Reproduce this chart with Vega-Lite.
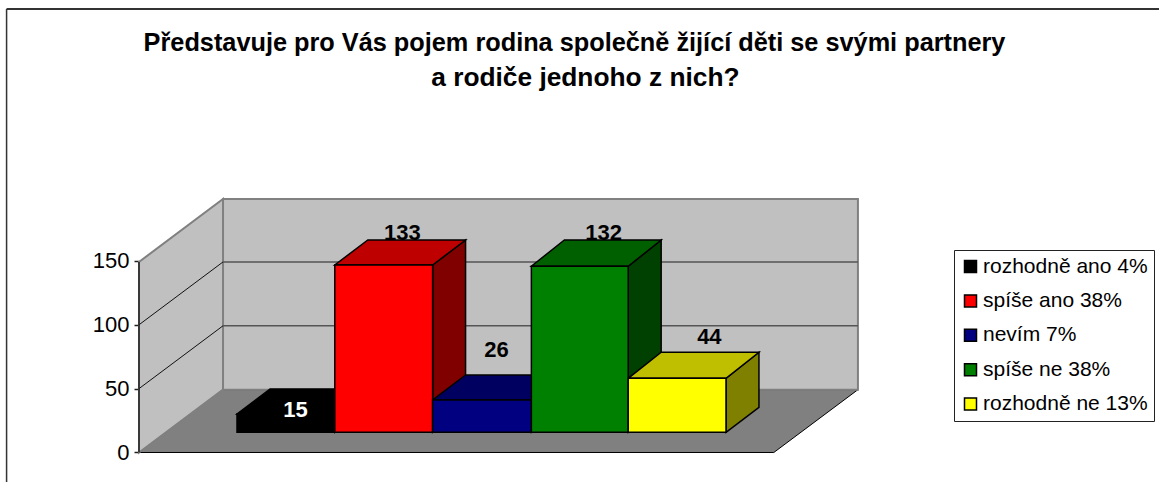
{
"$schema":"https://vega.github.io/schema/vega-lite/v6.json",
"width":1159,"height":482,"autosize":{"type":"none"},"padding":0,"background":"white",
"config":{"view":{"stroke":null},"font":"Liberation Sans","axisY":{"domain":false,"grid":false,"tickSize":5,"tickColor":"#222","tickWidth":1.5,"labelFontSize":22,"labelColor":"black","labelPadding":5,"labelFont":"Liberation Sans"}},
"title":{"text":"Představuje pro Vás pojem rodina společně žijící děti se svými partnery","anchor":"middle","frame":"group","dx":-5,"offset":-56,"fontSize":25.3,"fontWeight":"bold","font":"Liberation Sans","color":"black"},
"datasets":{
"bars":[
{"label":"rozhodně ano 4%","count":15,"x":0,"x2":1,"base":15.8,"top":30.1},
{"label":"spíše ano 38%","count":133,"x":1,"x2":2,"base":15.8,"top":146.8},
{"label":"nevím 7%","count":26,"x":2,"x2":3.01,"base":15.8,"top":41.1},
{"label":"spíše ne 38%","count":132,"x":3.01,"x2":4,"base":15.8,"top":145.8},
{"label":"rozhodně ne 13%","count":44,"x":4,"x2":5,"base":15.8,"top":58.1}],
"sides":[
{"label":"rozhodně ano 4%","x":1,"y":15.8,"y2":30.1},{"label":"rozhodně ano 4%","x":1.337,"y":35.4,"y2":49.7},
{"label":"spíše ano 38%","x":2,"y":15.8,"y2":146.8},{"label":"spíše ano 38%","x":2.337,"y":35.4,"y2":166.4},
{"label":"nevím 7%","x":3.01,"y":15.8,"y2":41.1},{"label":"nevím 7%","x":3.347,"y":35.4,"y2":60.7},
{"label":"spíše ne 38%","x":4,"y":15.8,"y2":145.8},{"label":"spíše ne 38%","x":4.337,"y":35.4,"y2":166.4},
{"label":"rozhodně ne 13%","x":5,"y":15.8,"y2":58.1},{"label":"rozhodně ne 13%","x":5.337,"y":35.4,"y2":78.5}],
"tops":[
{"label":"rozhodně ano 4%","y":30.1,"x":0,"x2":1},{"label":"rozhodně ano 4%","y":49.7,"x":0.337,"x2":1.337},
{"label":"spíše ano 38%","y":146.8,"x":1,"x2":2},{"label":"spíše ano 38%","y":166.4,"x":1.337,"x2":2.337},
{"label":"nevím 7%","y":41.1,"x":2,"x2":3.01},{"label":"nevím 7%","y":60.7,"x":2.337,"x2":3.347},
{"label":"spíše ne 38%","y":145.8,"x":3.01,"x2":4},{"label":"spíše ne 38%","y":166.4,"x":3.347,"x2":4.337},
{"label":"rozhodně ne 13%","y":58.1,"x":4,"x2":5},{"label":"rozhodně ne 13%","y":78.5,"x":4.337,"x2":5.337}],
"labels":[
{"count":15,"x":0.598,"y":27.8},{"count":133,"x":1.692,"y":166.4},{"count":26,"x":2.654,"y":75},{"count":132,"x":3.749,"y":166.4},{"count":44,"x":4.83,"y":85}],
"floor":[{"y":0,"x":-1.002,"x2":5.489},{"y":49.2,"x":-0.143,"x2":6.349}],
"leftwall":[{"x":-1.002,"y":0,"y2":149.2},{"x":-0.143,"y":49.2,"y2":198.5}],
"backwall":[{"x":-0.143,"x2":6.349,"y":49.2,"y2":198.5}],
"sidegrid":[{"level":50,"x":-1.002,"y":50},{"level":50,"x":-0.143,"y":99.2},{"level":100,"x":-1.002,"y":100},{"level":100,"x":-0.143,"y":149.2}],
"backgrid":[{"x":-0.143,"x2":6.349,"y":99.2},{"x":-0.143,"x2":6.349,"y":149.2}],
"axisline":[{"x":-1.002,"y":0,"y2":149.2}],
"frametop":[{"x":-2.356,"x2":9.4274,"y":347.3}],
"frameleft":[{"x":-2.356,"y":347.3,"y2":-23.1}],
"titleline":[{"text":"a rodiče jednoho z nich?","x":3.562,"y":287.2}]
},
"layer":[
{"data":{"name":"floor"},"mark":{"type":"area","orient":"horizontal","color":"#808080","stroke":"black","strokeWidth":1},
 "encoding":{
  "y":{"field":"y","type":"quantitative","scale":{"domain":[-23.1,354.3],"zero":false,"nice":false},"axis":{"title":null,"values":[0,50,100,150],"offset":-139}},
  "x":{"field":"x","type":"quantitative","scale":{"domain":[-2.4233,9.4274],"zero":false,"nice":false},"axis":null},
  "x2":{"field":"x2"}}},
{"data":{"name":"titleline"},"mark":{"type":"text","fontSize":26.3,"fontWeight":"bold","color":"black","font":"Liberation Sans","align":"center","baseline":"alphabetic"},
 "encoding":{"x":{"field":"x","type":"quantitative","axis":null},"y":{"field":"y","type":"quantitative","axis":{"title":null,"values":[0,50,100,150],"offset":-139}},"text":{"field":"text","type":"nominal"}}},
{"data":{"name":"backwall"},"mark":{"type":"rect","color":"#C0C0C0","stroke":"#808080","strokeWidth":2},
 "encoding":{"x":{"field":"x","type":"quantitative","axis":null},"x2":{"field":"x2"},"y":{"field":"y","type":"quantitative","axis":{"title":null,"values":[0,50,100,150],"offset":-139}},"y2":{"field":"y2"}}},
{"data":{"name":"leftwall"},"mark":{"type":"area","orient":"vertical","color":"#C0C0C0","stroke":"#808080","strokeWidth":2},
 "encoding":{"x":{"field":"x","type":"quantitative","axis":null},"y":{"field":"y","type":"quantitative","axis":{"title":null,"values":[0,50,100,150],"offset":-139}},"y2":{"field":"y2"}}},
{"data":{"name":"backgrid"},"mark":{"type":"rule","color":"#555555","strokeWidth":1.5},
 "encoding":{"x":{"field":"x","type":"quantitative","axis":null},"x2":{"field":"x2"},"y":{"field":"y","type":"quantitative","axis":{"title":null,"values":[0,50,100,150],"offset":-139}}}},
{"data":{"name":"sidegrid"},"mark":{"type":"line","color":"#111111","strokeWidth":1},
 "encoding":{"x":{"field":"x","type":"quantitative","axis":null},"y":{"field":"y","type":"quantitative","axis":{"title":null,"values":[0,50,100,150],"offset":-139}},"detail":{"field":"level"}}},
{"data":{"name":"axisline"},"mark":{"type":"rule","color":"#222222","strokeWidth":1.5},
 "encoding":{"x":{"field":"x","type":"quantitative","axis":null},"y":{"field":"y","type":"quantitative","axis":{"title":null,"values":[0,50,100,150],"offset":-139}},"y2":{"field":"y2"}}},
{"data":{"name":"frametop"},"mark":{"type":"rule","color":"#333333","strokeWidth":2},
 "encoding":{"x":{"field":"x","type":"quantitative","axis":null},"x2":{"field":"x2"},"y":{"field":"y","type":"quantitative","axis":{"title":null,"values":[0,50,100,150],"offset":-139}}}},
{"data":{"name":"frameleft"},"mark":{"type":"rule","color":"#333333","strokeWidth":1.5},
 "encoding":{"x":{"field":"x","type":"quantitative","axis":null},"y":{"field":"y","type":"quantitative","axis":{"title":null,"values":[0,50,100,150],"offset":-139}},"y2":{"field":"y2"}}},
{"data":{"name":"labels"},"transform":[{"filter":"datum.count > 20"}],"mark":{"type":"text","fontSize":22,"fontWeight":"bold","color":"black","font":"Liberation Sans","align":"center","baseline":"alphabetic"},
 "encoding":{"x":{"field":"x","type":"quantitative","axis":null},"y":{"field":"y","type":"quantitative","axis":{"title":null,"values":[0,50,100,150],"offset":-139}},"text":{"field":"count","type":"quantitative"}}},
{"data":{"name":"sides"},"mark":{"type":"area","orient":"vertical","stroke":"black","strokeWidth":1.5},
 "encoding":{"x":{"field":"x","type":"quantitative","axis":null},"y":{"field":"y","type":"quantitative","axis":{"title":null,"values":[0,50,100,150],"offset":-139}},"y2":{"field":"y2"},
  "color":{"field":"label","type":"nominal","legend":null,"scale":{"domain":["rozhodně ano 4%","spíše ano 38%","nevím 7%","spíše ne 38%","rozhodně ne 13%"],"range":["#000000","#800000","#000040","#004000","#808000"]}}}},
{"data":{"name":"tops"},"mark":{"type":"area","orient":"horizontal","stroke":"black","strokeWidth":1.5},
 "encoding":{"y":{"field":"y","type":"quantitative","axis":{"title":null,"values":[0,50,100,150],"offset":-139}},"x":{"field":"x","type":"quantitative","axis":null},"x2":{"field":"x2"},
  "color":{"field":"label","type":"nominal","legend":null,"scale":{"domain":["rozhodně ano 4%","spíše ano 38%","nevím 7%","spíše ne 38%","rozhodně ne 13%"],"range":["#000000","#BF0000","#000060","#006000","#BFBF00"]}}}},
{"data":{"name":"bars"},"mark":{"type":"rect","stroke":"black","strokeWidth":1.5},
 "encoding":{"x":{"field":"x","type":"quantitative","axis":null},"x2":{"field":"x2"},"y":{"field":"top","type":"quantitative","axis":{"title":null,"values":[0,50,100,150],"offset":-139}},"y2":{"field":"base"},
  "color":{"field":"label","type":"nominal","scale":{"domain":["rozhodně ano 4%","spíše ano 38%","nevím 7%","spíše ne 38%","rozhodně ne 13%"],"range":["#000000","#FF0000","#000080","#008000","#FFFF00"]},
   "legend":{"title":null,"orient":"none","legendX":954,"legendY":250,"fillColor":"white","strokeColor":"#222222","padding":6,"symbolType":"square","symbolSize":144,"symbolStrokeColor":"black","symbolStrokeWidth":1.5,"symbolOpacity":1,"labelFontSize":21,"labelFont":"Liberation Sans","labelColor":"black","rowPadding":12.4,"labelOffset":2,"labelLimit":300}}}},
{"data":{"name":"labels"},"transform":[{"filter":"datum.count <= 20"}],"mark":{"type":"text","fontSize":22,"fontWeight":"bold","color":"white","font":"Liberation Sans","align":"center","baseline":"alphabetic"},
 "encoding":{"x":{"field":"x","type":"quantitative","axis":null},"y":{"field":"y","type":"quantitative","axis":{"title":null,"values":[0,50,100,150],"offset":-139}},"text":{"field":"count","type":"quantitative"}}}
],
"resolve":{"scale":{"color":"independent"}}
}
